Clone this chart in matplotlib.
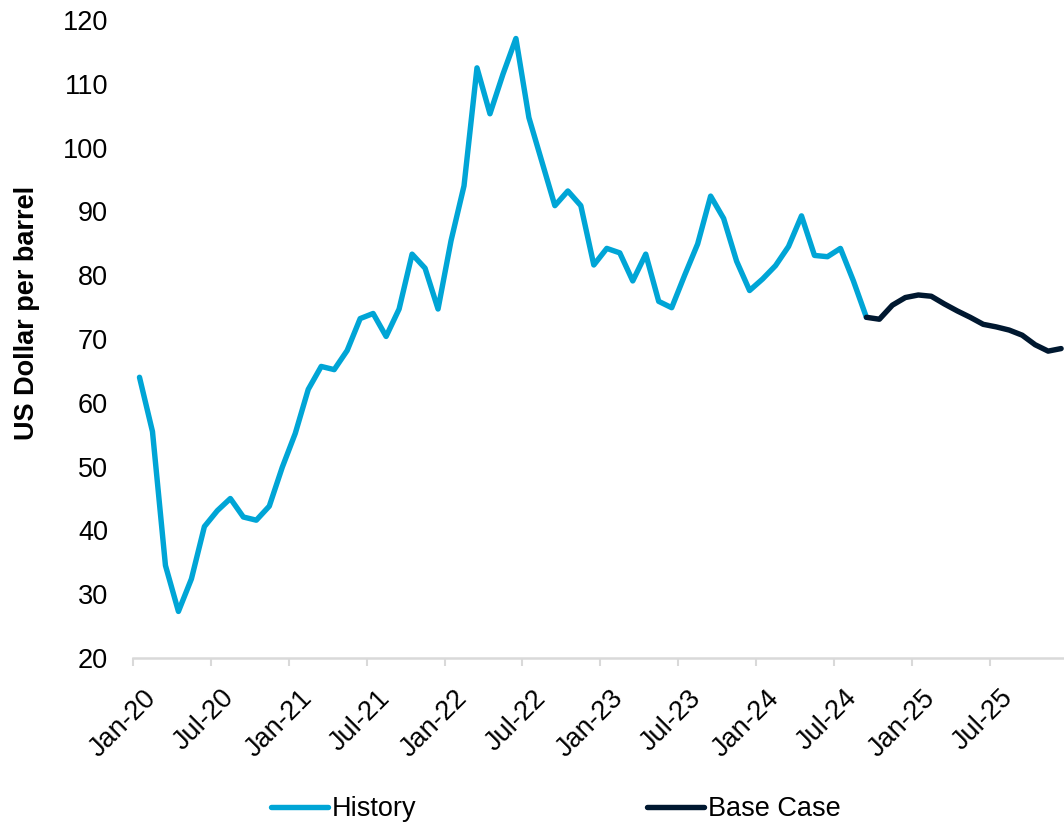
import matplotlib
matplotlib.use("Agg")
import matplotlib.pyplot as plt
import matplotlib.transforms as mtransforms

plt.rcParams['font.family'] = ['Liberation Sans', 'DejaVu Sans']

# Monthly Brent price, Jan-20 .. Sep-24
history = [64.0, 55.5, 34.5, 27.3, 32.4, 40.6, 43.1, 45.0, 42.1, 41.6, 43.8, 49.9,
           55.2, 62.1, 65.7, 65.2, 68.2, 73.2, 74.0, 70.4, 74.7, 83.3, 81.1, 74.7,
           85.4, 94.0, 112.5, 105.3, 111.5, 117.1, 104.7, 97.8, 90.9, 93.2, 90.9, 81.6,
           84.2, 83.5, 79.1, 83.3, 75.9, 74.9, 80.0, 84.9, 92.4, 88.9, 82.2, 77.6,
           79.4, 81.5, 84.5, 89.3, 83.1, 82.9, 84.2, 79.1, 73.4]
# Forecast, Sep-24 .. Dec-25
base_case = [73.4, 73.1, 75.3, 76.5, 76.9, 76.7, 75.5, 74.4, 73.4, 72.3, 71.9, 71.4,
             70.6, 69.1, 68.1, 68.5]
tick_labels = ["Jan-20", "Jul-20", "Jan-21", "Jul-21", "Jan-22", "Jul-22",
               "Jan-23", "Jul-23", "Jan-24", "Jul-24", "Jan-25", "Jul-25"]
yticks = [20, 30, 40, 50, 60, 70, 80, 90, 100, 110, 120]

n_hist = len(history)
x_hist = list(range(n_hist))
x_base = list(range(n_hist - 1, n_hist - 1 + len(base_case)))
n_total = x_base[-1] + 1

W, H = 1064, 825
fig = plt.figure(figsize=(W / 100, H / 100), dpi=100)
left, right, top, bottom = 133, 1067.6, 20, 658
ax = fig.add_axes([left / W, 1 - bottom / H, (right - left) / W, (bottom - top) / H])

blue = "#00A5D6"
navy = "#001830"
lw = 3.9
ax.plot(x_hist, history, color=blue, lw=lw, solid_capstyle="round",
        solid_joinstyle="round", label="History", clip_on=False, zorder=3)
ax.plot(x_base, base_case, color=navy, lw=lw, solid_capstyle="round",
        solid_joinstyle="round", label="Base Case", clip_on=False, zorder=4)

ax.set_xlim(-0.5, n_total - 0.5)
ax.set_ylim(20, 120)
ax.set_yticks(yticks)
ax.set_yticklabels([str(v) for v in yticks])

tick_pos = [-0.5 + 6 * k for k in range(len(tick_labels))]
ax.set_xticks(tick_pos)
ax.set_xticklabels(tick_labels, rotation=45, ha="right", rotation_mode="anchor")

for s in ["top", "right", "left"]:
    ax.spines[s].set_visible(False)
ax.spines["bottom"].set_color("#D9D9D9")
ax.spines["bottom"].set_linewidth(1.8)

ax.tick_params(axis="y", length=0, pad=18, labelsize=19.5, colors="black")
ax.tick_params(axis="x", length=6, width=1.5, color="#D9D9D9", direction="out",
               pad=12, labelsize=19.5, labelcolor="black")

offset = mtransforms.ScaledTranslation(10 / 100, -2 / 100, fig.dpi_scale_trans)
for lab in ax.get_xticklabels():
    lab.set_transform(lab.get_transform() + offset)

fig.text(27 / W, 1 - 313 / H, "US Dollar per barrel", rotation=90, fontsize=19.5,
         fontweight="bold", ha="center", va="center")

fig.legend(loc="center", bbox_to_anchor=(556 / W, 1 - 809 / H), ncol=2, frameon=False,
           fontsize=19.5, handlelength=2.1, handletextpad=0.15, columnspacing=8.5,
           borderaxespad=0, borderpad=0)

fig.savefig("out.png", dpi=100)
